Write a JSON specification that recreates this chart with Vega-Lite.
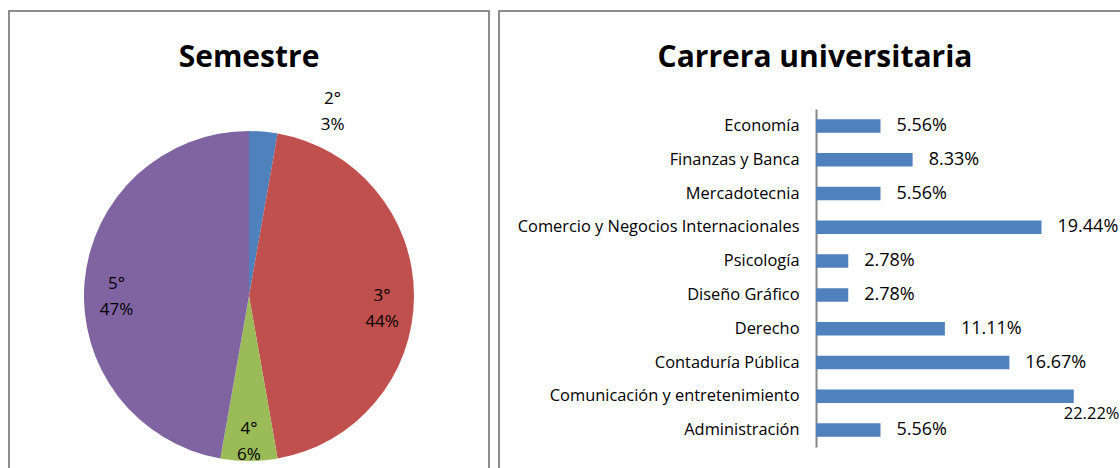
{
  "$schema": "https://vega.github.io/schema/vega-lite/v6.json",
  "padding": {"left": 8, "top": 10, "right": 0, "bottom": 0},
  "spacing": 8,
  "background": "white",
  "config": {
    "font": "Open Sans",
    "view": {"stroke": "#8c8c8c", "strokeWidth": 2},
    "title": {"font": "Open Sans", "fontWeight": "bold", "fontSize": 30, "color": "#000000", "anchor": "middle", "frame": "group", "offset": -62}
  },
  "hconcat": [
    {
      "width": 480,
      "height": 570,
      "view": {"stroke": "#8c8c8c", "strokeWidth": 2, "fill": "white"},
      "title": {"text": "Semestre"},
      "data": {"values": [
        {"semestre": "2°", "n": 1, "orden": 1, "label": "2°\n3%"},
        {"semestre": "3°", "n": 16, "orden": 2, "label": "3°\n44%"},
        {"semestre": "4°", "n": 2, "orden": 3, "label": "4°\n6%"},
        {"semestre": "5°", "n": 17, "orden": 4, "label": "5°\n47%"}
      ]},
      "encoding": {
        "theta": {"field": "n", "type": "quantitative", "stack": true},
        "order": {"field": "orden", "type": "quantitative"}
      },
      "layer": [
        {
          "mark": {"type": "arc", "outerRadius": 165},
          "encoding": {
            "color": {"field": "semestre", "type": "nominal", "legend": null,
              "scale": {"domain": ["2°", "3°", "4°", "5°"], "range": ["#4F81BD", "#C0504D", "#9BBB59", "#8064A2"]}}
          }
        },
        {
          "mark": {"type": "text", "radius": 133, "fontSize": 17, "lineBreak": "\n", "lineHeight": 26, "color": "#000000", "align": "center", "baseline": "middle"},
          "encoding": {
            "text": {"condition": {"test": "datum.semestre === '2°'", "value": ""}, "field": "label", "type": "nominal"}
          }
        },
        {
          "mark": {"type": "text", "radius": 133, "dx": 72, "dy": -65, "fontSize": 17, "lineBreak": "\n", "lineHeight": 26, "color": "#000000", "align": "center", "baseline": "middle"},
          "encoding": {
            "text": {"condition": {"test": "datum.semestre !== '2°'", "value": ""}, "field": "label", "type": "nominal"}
          }
        }
      ]
    },
    {
      "width": 632,
      "height": 570,
      "title": {"text": "Carrera universitaria"},
      "data": {"values": [
        {"carrera": "Economía", "p": 5.56, "label": "5.56%"},
        {"carrera": "Finanzas y Banca", "p": 8.33, "label": "8.33%"},
        {"carrera": "Mercadotecnia", "p": 5.56, "label": "5.56%"},
        {"carrera": "Comercio y Negocios Internacionales", "p": 19.44, "label": "19.44%"},
        {"carrera": "Psicología", "p": 2.78, "label": "2.78%"},
        {"carrera": "Diseño Gráfico", "p": 2.78, "label": "2.78%"},
        {"carrera": "Derecho", "p": 11.11, "label": "11.11%"},
        {"carrera": "Contaduría Pública", "p": 16.67, "label": "16.67%"},
        {"carrera": "Comunicación y entretenimiento ", "p": 22.22, "label": "22.22%"},
        {"carrera": "Administración", "p": 5.56, "label": "5.56%"}
      ]},
      "encoding": {
        "y": {"field": "carrera", "type": "nominal", "sort": null,
          "scale": {"range": [98, 436], "paddingInner": 0.6, "paddingOuter": 0.3},
          "axis": {"title": null, "ticks": false, "offset": -317, "labelPadding": 17, "labelFontSize": 16.4, "labelFont": "Open Sans", "labelColor": "#000000", "domainColor": "#868686", "domainWidth": 2, "labelLimit": 500}},
        "x": {"field": "p", "type": "quantitative", "scale": {"domain": [0, 25], "range": [317, 607]}, "axis": null}
      },
      "layer": [
        {"mark": {"type": "bar", "color": "#4F81BD"}},
        {
          "mark": {"type": "text", "align": "left", "baseline": "middle", "dx": 16, "fontSize": 18, "color": "#000000"},
          "encoding": {"text": {"condition": {"test": "datum.p > 22", "value": ""}, "field": "label", "type": "nominal"}}
        },
        {
          "mark": {"type": "text", "align": "left", "baseline": "middle", "dx": -10, "dy": 18, "fontSize": 16.5, "color": "#000000"},
          "encoding": {"text": {"condition": {"test": "datum.p <= 22", "value": ""}, "field": "label", "type": "nominal"}}
        }
      ]
    }
  ]
}
